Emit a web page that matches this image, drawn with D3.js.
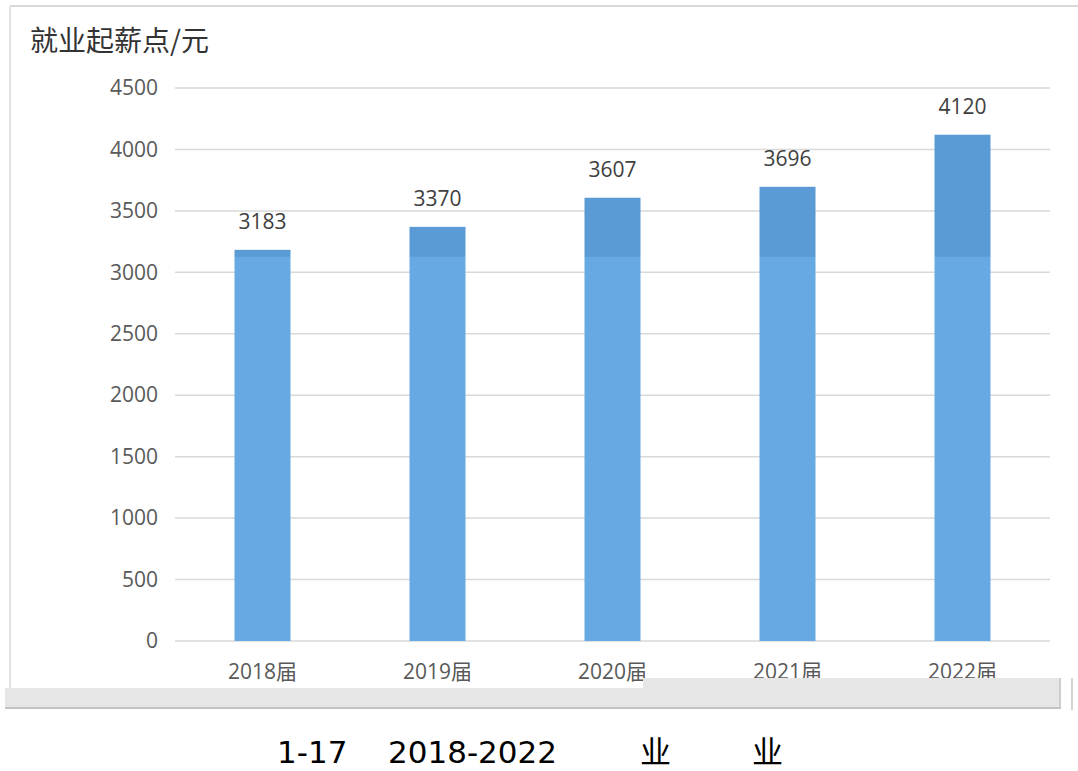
<!DOCTYPE html>
<html>
<head>
<meta charset="utf-8">
<script src="https://cdn.jsdelivr.net/npm/d3@7"></script>
<style>
  body { margin: 0; background: #fff; }
  svg { display: block; }
</style>
</head>
<body>
<div id="chart"></div>
<script>
// data
const years = ["2018届", "2019届", "2020届", "2021届", "2022届"];
const totals = [3183, 3370, 3607, 3696, 4120];
const baseLevel = [3125, 3125, 3125, 3125, 3125];
const topPart = [58, 245, 482, 571, 995];
const yTicks = [0, 500, 1000, 1500, 2000, 2500, 3000, 3500, 4000, 4500];

const width = 1078, height = 771;
const plot = { left: 175, right: 1050, top: 88, bottom: 641 };

const svg = d3.select("#chart").append("svg")
  .attr("width", width)
  .attr("height", height);

// frame of the screenshot
svg.append("line")
  .attr("x1", 10).attr("x2", width).attr("y1", 6).attr("y2", 6)
  .attr("stroke", "#d9d9d9").attr("stroke-width", 2);
svg.append("line")
  .attr("x1", 10).attr("x2", 10).attr("y1", 6).attr("y2", 688)
  .attr("stroke", "#e3e3e3").attr("stroke-width", 2);

const x = d3.scaleBand()
  .domain(years)
  .range([plot.left, plot.right])
  .paddingInner(0.68)
  .paddingOuter(0.34);

const y = d3.scaleLinear()
  .domain([0, 4500])
  .range([plot.bottom, plot.top]);

// gridlines
svg.append("g")
  .selectAll("line")
  .data(yTicks)
  .enter()
  .append("line")
  .attr("x1", plot.left)
  .attr("x2", plot.right)
  .attr("y1", d => y(d))
  .attr("y2", d => y(d))
  .attr("stroke", "#d9d9d9")
  .attr("stroke-width", 1.5);

// y axis labels
const yAxis = svg.append("g")
  .attr("transform", `translate(${plot.left}, 0)`)
  .call(d3.axisLeft(y).tickValues(yTicks).tickFormat(d3.format("d")).tickSize(0).tickPadding(17));
yAxis.select(".domain").remove();
yAxis.selectAll("text")
  .attr("font-family", "'Open Sans', 'Noto Sans', sans-serif")
  .attr("font-size", 21)
  .attr("fill", "#595959");

// bars, lower part
svg.append("g")
  .selectAll("rect")
  .data(years)
  .enter()
  .append("rect")
  .attr("x", d => x(d))
  .attr("width", x.bandwidth())
  .attr("y", (d, i) => y(baseLevel[i]))
  .attr("height", (d, i) => y(0) - y(baseLevel[i]))
  .attr("fill", "#67a9e3");

// bars, upper part
svg.append("g")
  .selectAll("rect")
  .data(years)
  .enter()
  .append("rect")
  .attr("x", d => x(d))
  .attr("width", x.bandwidth())
  .attr("y", (d, i) => y(baseLevel[i] + topPart[i]))
  .attr("height", (d, i) => y(baseLevel[i]) - y(baseLevel[i] + topPart[i]))
  .attr("fill", "#5b9bd5");

// value labels
svg.append("g")
  .selectAll("text")
  .data(years)
  .enter()
  .append("text")
  .attr("x", d => x(d) + x.bandwidth() / 2)
  .attr("y", (d, i) => y(totals[i]) - 21)
  .attr("text-anchor", "middle")
  .attr("font-family", "'Open Sans', 'Noto Sans', sans-serif")
  .attr("font-size", 21)
  .attr("fill", "#404040")
  .text((d, i) => totals[i]);

// x axis labels
svg.append("g")
  .selectAll("text")
  .data(years)
  .enter()
  .append("text")
  .attr("x", d => x(d) + x.bandwidth() / 2)
  .attr("y", 679)
  .attr("text-anchor", "middle")
  .attr("font-family", "'Open Sans', 'Noto Sans CJK SC', sans-serif")
  .attr("font-size", 21)
  .attr("fill", "#595959")
  .text(d => d);

// axis title
svg.append("text")
  .attr("x", 30)
  .attr("y", 51)
  .attr("font-family", "'Noto Sans CJK SC', sans-serif")
  .attr("font-size", 28)
  .attr("fill", "#333")
  .text("就业起薪点/元");

// grey scrollbar strip that cuts the bottom of the chart
svg.append("rect")
  .attr("x", 5).attr("y", 688).attr("width", 640).attr("height", 20)
  .attr("fill", "#e6e6e6");
svg.append("rect")
  .attr("x", 643).attr("y", 678).attr("width", 418).attr("height", 30)
  .attr("fill", "#e6e6e6");
svg.append("line")
  .attr("x1", 5).attr("x2", 1061).attr("y1", 708).attr("y2", 708)
  .attr("stroke", "#c4c4c4").attr("stroke-width", 2);
svg.append("line")
  .attr("x1", 1060).attr("x2", 1060).attr("y1", 678).attr("y2", 708)
  .attr("stroke", "#c4c4c4").attr("stroke-width", 1.5);
svg.append("line")
  .attr("x1", 1072).attr("x2", 1072).attr("y1", 678).attr("y2", 710)
  .attr("stroke", "#c4c4c4").attr("stroke-width", 1.5);

// caption
const caption = [
  { t: "1-17", x: 277 },
  { t: "2018-2022", x: 388 },
  { t: "业", x: 640 },
  { t: "业", x: 752 }
];
svg.append("g")
  .selectAll("text")
  .data(caption)
  .enter()
  .append("text")
  .attr("x", d => d.x)
  .attr("y", 763)
  .attr("font-family", "'DejaVu Sans', 'Noto Sans CJK SC', sans-serif")
  .attr("font-size", 31)
  .attr("fill", "#000")
  .text(d => d.t);
</script>
</body>
</html>
